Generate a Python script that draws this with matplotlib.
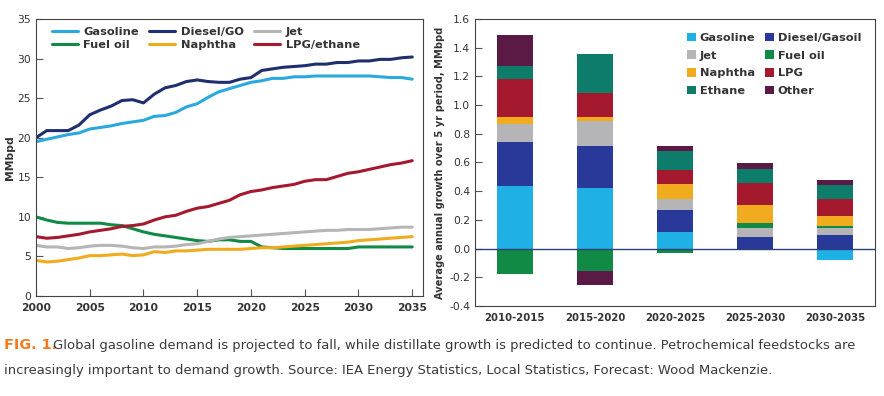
import numpy as np
import matplotlib
matplotlib.use("Agg")
import matplotlib.pyplot as plt
from matplotlib import font_manager

# --- fonts: narrow face if we have one
names = {f.name for f in font_manager.fontManager.ttflist}
if "Liberation Sans Narrow" in names:
    plt.rcParams["font.family"] = ["Liberation Sans Narrow", "DejaVu Sans"]
    SC = 1.0
else:
    plt.rcParams["font.family"] = ["DejaVu Sans"]
    SC = 0.86

# --- left chart data (MMbpd)
years = list(range(2000, 2036))
gasoline = [19.5, 19.8, 20.1, 20.4, 20.6, 21.1, 21.3, 21.5, 21.8, 22.0,
            22.2, 22.7, 22.8, 23.2, 23.9, 24.3, 25.1, 25.8, 26.2, 26.6,
            27.0, 27.2, 27.5, 27.5, 27.7, 27.7, 27.8, 27.8, 27.8, 27.8,
            27.8, 27.8, 27.7, 27.6, 27.6, 27.4]
diesel = [20.0, 20.9, 20.9, 20.9, 21.6, 22.9, 23.5, 24.0, 24.7, 24.8,
          24.4, 25.5, 26.3, 26.6, 27.1, 27.3, 27.1, 27.0, 27.0, 27.4,
          27.6, 28.5, 28.7, 28.9, 29.0, 29.1, 29.3, 29.3, 29.5, 29.5,
          29.7, 29.7, 29.9, 29.9, 30.1, 30.2]
jet = [6.4, 6.2, 6.2, 6.0, 6.1, 6.3, 6.4, 6.4, 6.3, 6.1,
       6.0, 6.2, 6.2, 6.3, 6.5, 6.6, 6.9, 7.2, 7.4, 7.5,
       7.6, 7.7, 7.8, 7.9, 8.0, 8.1, 8.2, 8.3, 8.3, 8.4,
       8.4, 8.4, 8.5, 8.6, 8.7, 8.7]
fuel_oil = [10.0, 9.6, 9.3, 9.2, 9.2, 9.2, 9.2, 9.0, 8.9, 8.5,
            8.1, 7.8, 7.6, 7.4, 7.2, 7.0, 6.9, 7.1, 7.1, 6.9,
            6.9, 6.2, 6.1, 6.0, 6.0, 6.0, 6.0, 6.0, 6.0, 6.0,
            6.2, 6.2, 6.2, 6.2, 6.2, 6.2]
naphtha = [4.5, 4.3, 4.4, 4.6, 4.8, 5.1, 5.1, 5.2, 5.3, 5.1,
           5.2, 5.6, 5.5, 5.7, 5.7, 5.8, 5.9, 5.9, 5.9, 5.9,
           6.0, 6.1, 6.1, 6.2, 6.3, 6.4, 6.5, 6.6, 6.7, 6.8,
           7.0, 7.1, 7.2, 7.3, 7.4, 7.5]
lpg_ethane = [7.5, 7.3, 7.4, 7.6, 7.8, 8.1, 8.3, 8.5, 8.8, 8.9,
              9.1, 9.6, 10.0, 10.2, 10.7, 11.1, 11.3, 11.7, 12.1, 12.8,
              13.2, 13.4, 13.7, 13.9, 14.1, 14.5, 14.7, 14.7, 15.1, 15.5,
              15.7, 16.0, 16.3, 16.6, 16.8, 17.1]

# --- right chart data (average annual growth, MMbpd)
periods = ["2010-2015", "2015-2020", "2020-2025", "2025-2030", "2030-2035"]
g_gasoline = [0.437, 0.425, 0.116, -0.005, -0.079]
g_diesel = [0.307, 0.290, 0.153, 0.084, 0.093]
g_jet = [0.123, 0.174, 0.079, 0.062, 0.053]
g_fuel_oil = [-0.180, -0.156, -0.028, 0.030, 0.012]
g_naphtha = [0.053, 0.030, 0.100, 0.125, 0.070]
g_lpg = [0.260, 0.163, 0.098, 0.158, 0.116]
g_ethane = [0.093, 0.272, 0.135, 0.098, 0.100]
g_other = [0.214, -0.100, 0.035, 0.042, 0.033]

C_GAS = "#1fb1e6"
C_DSL = "#1f2f6e"
C_DSL_BAR = "#28399a"
C_JET = "#b5b5b7"
C_FO = "#108a45"
C_NAP = "#f1ab1f"
C_LPG = "#a5192e"
C_ETH = "#0e7c6b"
C_OTH = "#5b1a45"
TXT = "#333333"

fig = plt.figure(figsize=(8.84, 3.96), dpi=100)

# ---------- left: demand lines
ax1 = fig.add_axes([0.0407, 0.2525, 0.4378, 0.6995])
series = [
    ("Gasoline", gasoline, "#2aa9df"),
    ("Fuel oil", fuel_oil, C_FO),
    ("Diesel/GO", diesel, C_DSL),
    ("Naphtha", naphtha, C_NAP),
    ("Jet", jet, C_JET),
    ("LPG/ethane", lpg_ethane, C_LPG),
]
for name, vals, col in series:
    ax1.plot(years, vals, color=col, lw=2.2, label=name, solid_capstyle="round")
ax1.set_xlim(2000, 2036)
ax1.set_ylim(0, 35)
ax1.set_xticks(range(2000, 2036, 5))
ax1.set_yticks(range(0, 36, 5))
ax1.tick_params(direction="in", length=5, width=0.8, colors="#555555",
                labelsize=9 * SC, labelcolor=TXT)
ax1.tick_params(axis="x", pad=5)
for lab in ax1.get_xticklabels():
    lab.set_fontweight("bold")
ax1.set_ylabel("MMbpd", fontsize=9 * SC, fontweight="bold", color=TXT, labelpad=2)
for sp in ax1.spines.values():
    sp.set_color("#444444")
    sp.set_linewidth(0.8)
leg1 = ax1.legend(ncol=3, loc="upper left", frameon=False, fontsize=9.5 * SC,
                  handlelength=2.3, handletextpad=0.5, columnspacing=0.9,
                  labelspacing=0.3, borderaxespad=0.3, bbox_to_anchor=(0.02, 1.0))
for t in leg1.get_texts():
    t.set_fontweight("bold")
    t.set_color(TXT)

# ---------- right: growth bars
ax2 = fig.add_axes([0.5373, 0.2273, 0.4525, 0.7247])
x = np.arange(len(periods))
stack = [
    ("Gasoline", g_gasoline, C_GAS),
    ("Diesel/Gasoil", g_diesel, C_DSL_BAR),
    ("Jet", g_jet, C_JET),
    ("Fuel oil", g_fuel_oil, C_FO),
    ("Naphtha", g_naphtha, C_NAP),
    ("LPG", g_lpg, C_LPG),
    ("Ethane", g_ethane, C_ETH),
    ("Other", g_other, C_OTH),
]
pos = np.zeros(len(periods))
neg = np.zeros(len(periods))
handles = {}
for name, vals, col in stack:
    v = np.array(vals)
    base = np.where(v >= 0, pos, neg)
    b = ax2.bar(x, v, 0.44, bottom=base, color=col, label=name, linewidth=0)
    handles[name] = b
    pos = pos + np.where(v >= 0, v, 0)
    neg = neg + np.where(v < 0, v, 0)
ax2.axhline(0, color="#2b3f7a", lw=1.0, zorder=3)
ax2.set_xlim(-0.5, 4.5)
ax2.set_ylim(-0.4, 1.6)
ax2.set_xticks(x)
ax2.set_xticklabels(periods, fontweight="bold")
ax2.set_yticks(np.arange(-0.4, 1.61, 0.2))
ax2.set_yticklabels([f"{v:.1f}" for v in np.arange(-0.4, 1.61, 0.2)])
ax2.tick_params(axis="y", direction="in", length=5, width=0.8, colors="#555555",
                labelsize=9 * SC, labelcolor=TXT)
ax2.tick_params(axis="x", length=0, labelsize=8.5 * SC, labelcolor=TXT, pad=5)
ax2.set_ylabel("Average annual growth over 5 yr period, MMbpd", fontsize=8.3 * SC,
               fontweight="bold", color=TXT, labelpad=3)
for sp in ax2.spines.values():
    sp.set_color("#444444")
    sp.set_linewidth(0.8)
order = ["Gasoline", "Jet", "Naphtha", "Ethane",
         "Diesel/Gasoil", "Fuel oil", "LPG", "Other"]
leg2 = ax2.legend([handles[n] for n in order], order, ncol=2, loc="upper right",
                  frameon=False, fontsize=9.5 * SC, handlelength=0.8,
                  handleheight=0.8, handletextpad=0.3, columnspacing=0.9,
                  labelspacing=0.65, borderaxespad=0.8)
for t in leg2.get_texts():
    t.set_fontweight("bold")
    t.set_color(TXT)

# ---------- caption
fig.text(0.004, 0.118, "FIG. 1.", color="#f47b20", fontsize=12 * SC,
         fontweight="bold", va="baseline")
fig.text(0.06, 0.118, "Global gasoline demand is projected to fall, while distillate "
         "growth is predicted to continue. Petrochemical feedstocks are",
         color="#3a3a3a", fontsize=11 * SC, va="baseline")
fig.text(0.004, 0.055, "increasingly important to demand growth. Source: IEA Energy "
         "Statistics, Local Statistics, Forecast: Wood Mackenzie.",
         color="#3a3a3a", fontsize=11 * SC, va="baseline")

fig.savefig("out.png", dpi=100)
